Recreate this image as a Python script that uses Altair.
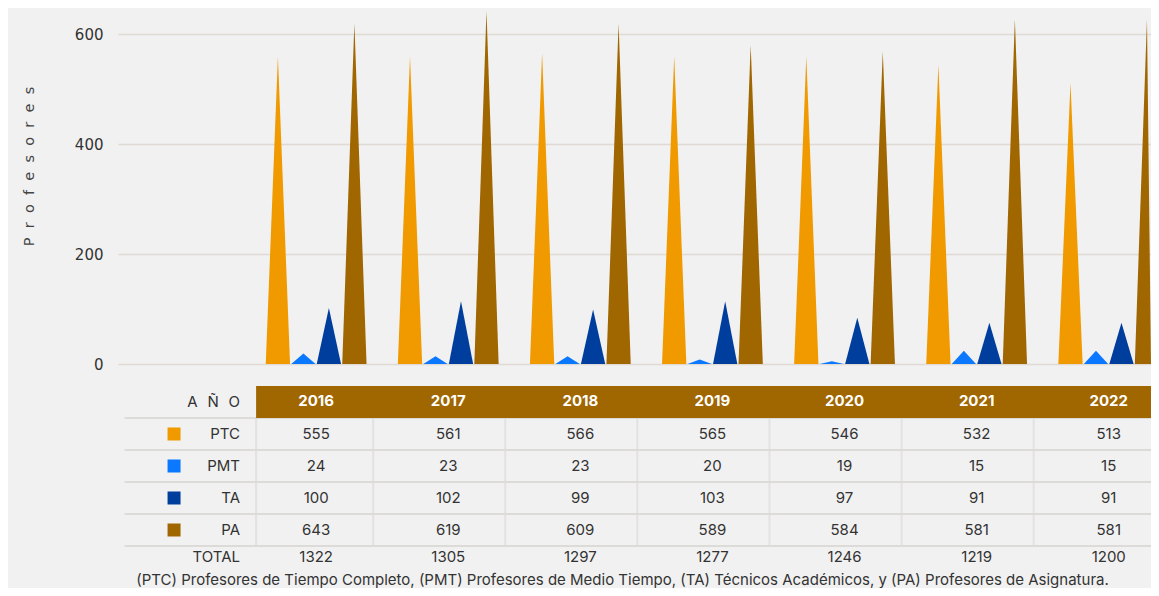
import altair as alt
import pandas as pd

# ---------------- data ----------------
years = ["2016", "2017", "2018", "2019", "2020", "2021", "2022"]
series = ["PTC", "PMT", "TA", "PA"]
series_colors = ["#F09A00", "#0A78FF", "#003E9E", "#A06600"]

# heights of the peaks as drawn in the chart
peak_ptc = [559, 559, 565, 559, 559, 544, 511]
peak_pmt = [19, 14, 14, 8, 5, 24, 24]
peak_ta = [102, 114, 99, 114, 84, 75, 75]
peak_pa = [619, 642, 619, 580, 568, 627, 627]

# values printed in the table
tab_ptc = [555, 561, 566, 565, 546, 532, 513]
tab_pmt = [24, 23, 23, 20, 19, 15, 15]
tab_ta = [100, 102, 99, 103, 97, 91, 91]
tab_pa = [643, 619, 609, 589, 584, 581, 581]
tab_total = [1322, 1305, 1297, 1277, 1246, 1219, 1200]

NB = "\u00a0"
row_keys = ["AÑO", "PTC", "PMT", "TA", "PA", "TOTAL"]
row_labels = [f"A{NB}{NB}\u200aÑ{NB}{NB}\u200aO", "PTC", "PMT", "TA", "PA"]
y_title = (NB * 2).join(list("Profesores"))
y_ticks = [0, 200, 400, 600]
footnote = ("(PTC) Profesores de Tiempo Completo, (PMT) Profesores de Medio Tiempo, "
            "(TA) Técnicos Académicos, y (PA) Profesores de Asignatura.")

# ---------------- tables for the library ----------------
peaks = {"PTC": peak_ptc, "PMT": peak_pmt, "TA": peak_ta, "PA": peak_pa}
tabs = {"PTC": tab_ptc, "PMT": tab_pmt, "TA": tab_ta, "PA": tab_pa}

bar_df = pd.DataFrame([
    {"year": y, "col": j + 1, "series": s, "si": i, "value": peaks[s][j]}
    for i, s in enumerate(series) for j, y in enumerate(years)
])
cell_df = pd.DataFrame([
    {"row": s, "col": j + 1, "value": tabs[s][j]}
    for s in series for j in range(len(years))
])
total_df = pd.DataFrame({"row": "TOTAL", "col": list(range(1, len(years) + 1)), "value": tab_total})
year_df = pd.DataFrame({"row": "AÑO", "col": list(range(1, len(years) + 1)), "year": years})
label_df = pd.DataFrame({"row": row_keys[:5], "label": row_labels})
square_df = pd.DataFrame({"row": series, "series": series})
sep_df = pd.DataFrame({"row": row_keys[1:]})

FONT = "Inter"
GRID = "#dfdbd4"
LINE = "#dddbd8"
TEXT = "#333333"
BROWN = "#A06600"

xs = alt.Scale(domain=[-0.5, 7.32], nice=False, zero=False, clamp=True)
ys_table = alt.Scale(type="band", domain=row_keys, range=[377, 569], paddingInner=0, paddingOuter=0)
color_scale = alt.Scale(domain=series, range=series_colors)


def yt(**kw):
    return alt.Y("row:N", scale=ys_table, axis=None, **kw)


# ---------------- peaks (triangles) ----------------
bars = alt.Chart(bar_df).transform_calculate(
    vtx="[-1, 0, 1]"
).transform_flatten(["vtx"]).transform_calculate(
    xp="datum.col + (datum.si - 1.5) * 0.193 + datum.vtx * 0.092",
    yp="datum.vtx == 0 ? datum.value : 0",
    key="datum.year + '-' + datum.series",
).mark_area(opacity=1).encode(
    x=alt.X("xp:Q", scale=xs, axis=None),
    y=alt.Y(
        "yp:Q", stack=None,
        scale=alt.Scale(domain=[0, 645.5], nice=False),
        axis=alt.Axis(
            values=y_ticks, grid=True, gridColor=GRID, gridWidth=1.5,
            domain=False, ticks=False, labelFont="DejaVu Sans", labelFontSize=15,
            labelColor=TEXT, labelPadding=15,
            title=y_title, titleFont="DejaVu Sans",
            titleFontSize=14.5, titleFontWeight="normal", titleColor="#444444",
            titleX=-89, titleY=157, titleAngle=270, titleBaseline="middle", titleAlign="center",
        ),
    ),
    color=alt.Color("series:N", scale=color_scale, legend=None),
    detail="key:N",
)

# ---------------- table ----------------
hlines = alt.Chart(sep_df).mark_rule(color=LINE, strokeWidth=2).encode(
    x=alt.X(datum=-0.45, scale=xs, axis=None),
    x2=alt.X2(datum=7.5),
    y=yt(bandPosition=0),
)

header = alt.Chart(pd.DataFrame({"row": ["AÑO"]})).mark_rect(color=BROWN, xOffset=6).encode(
    x=alt.X(datum=0.5, scale=xs, axis=None),
    x2=alt.X2(datum=7.5),
    y=yt(),
)

vlines_first = alt.Chart(cell_df).transform_filter("datum.col == 1").transform_calculate(
    xb="datum.col - 0.5"
).mark_tick(color=LINE, thickness=2, size=32, xOffset=6).encode(
    x=alt.X("xb:Q", scale=xs, axis=None), y=yt(),
)
vlines = alt.Chart(cell_df).transform_filter("datum.col > 1").transform_calculate(
    xb="datum.col - 0.5"
).mark_tick(color=LINE, thickness=2, size=32, xOffset=-9).encode(
    x=alt.X("xb:Q", scale=xs, axis=None), y=yt(),
)

year_text = alt.Chart(year_df).mark_text(
    font=FONT, fontSize=15, fontWeight="bold", color="white", dy=-1.5
).encode(
    x=alt.X("col:Q", scale=xs, axis=None), y=yt(), text="year:N",
)

labels = alt.Chart(label_df).mark_text(
    font=FONT, fontSize=15, color=TEXT, align="right", dx=56
).encode(
    x=alt.X(datum=0, scale=xs, axis=None), y=yt(), text="label:N",
)

total_label = alt.Chart(pd.DataFrame({"row": ["TOTAL"], "label": ["TOTAL"]})).mark_text(
    font=FONT, fontSize=15, color=TEXT, align="right", dx=56, dy=-5
).encode(
    x=alt.X(datum=0, scale=xs, axis=None), y=yt(), text="label:N",
)

squares = alt.Chart(square_df).mark_square(size=169, opacity=1, filled=True, xOffset=-10).encode(
    x=alt.X(datum=0, scale=xs, axis=None), y=yt(),
    color=alt.Color("series:N", scale=color_scale, legend=None),
)

cells = alt.Chart(cell_df).mark_text(font=FONT, fontSize=15, color=TEXT).encode(
    x=alt.X("col:Q", scale=xs, axis=None), y=yt(), text="value:Q",
)

totals = alt.Chart(total_df).mark_text(font=FONT, fontSize=15, color=TEXT, dy=-5).encode(
    x=alt.X("col:Q", scale=xs, axis=None), y=yt(), text="value:Q",
)

chart = alt.layer(
    bars, hlines, header, vlines_first, vlines, year_text, labels, total_label,
    squares, cells, totals
).resolve_scale(
    y="independent"
).properties(
    width=1033, height=355,
    autosize=alt.AutoSizeParams(type="none"),
    padding={"left": 110, "top": 1, "right": 0, "bottom": 224},
    title=alt.TitleParams(
        text=footnote, orient="bottom", anchor="middle", frame="group",
        font=FONT, fontSize=15, fontWeight="normal", color=TEXT, offset=8, dx=-12,
    ),
).configure(
    background="#f1f1f1",
).configure_view(stroke=None)

chart.save("out.html", embed_options={"renderer": "svg", "actions": False})
